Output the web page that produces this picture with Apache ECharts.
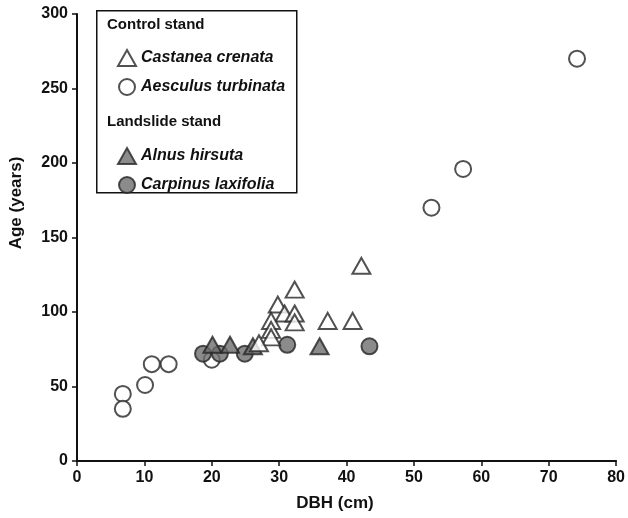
<!DOCTYPE html>
<html lang="en">
<head>
    <meta charset="UTF-8">
    <title>Age vs DBH</title>
    <style>
        html, body { margin: 0; padding: 0; background: #fff; }
        div#main { width: 628px; height: 518px; }
    </style>
</head>
<body>
    <div id="main"></div>
    <script src="https://cdn.jsdelivr.net/npm/echarts@6/dist/echarts.min.js"></script>
    <script>
        const FONT = '"Liberation Sans", Arial, sans-serif';

        // [DBH (cm), Age (years)]
        const castanea = [
            [42.2, 131], [32.3, 115], [29.8, 105], [30.8, 99], [32.3, 99],
            [32.3, 93], [28.8, 94], [28.8, 88], [28.8, 83], [27, 79],
            [37.2, 94], [40.9, 94]
        ];
        const aesculus = [
            [6.8, 45], [6.8, 35], [10.1, 51], [11.1, 65], [13.6, 65],
            [20, 68], [52.6, 170], [57.3, 196], [74.2, 270]
        ];
        const alnus = [[20.1, 78], [22.7, 78], [26.1, 77], [36, 77]];
        const carpinus = [[18.7, 72], [21.2, 72], [24.9, 72], [31.2, 78], [43.4, 77]];

        const controlNames = ['Castanea crenata', 'Aesculus turbinata'];
        const landslideNames = ['Alnus hirsuta', 'Carpinus laxifolia'];

        const openStyle = { color: '#fff', borderColor: '#262626', borderWidth: 2 };
        const filledStyle = { color: '#6e6e6e', borderColor: '#262626', borderWidth: 2 };

        const legendBase = {
            orient: 'vertical',
            left: 112,
            itemWidth: 18,
            itemHeight: 16,
            itemGap: 11,
            selectedMode: false,
            textStyle: {
                fontFamily: FONT, fontSize: 16, fontWeight: 'bold',
                fontStyle: 'italic', color: '#111'
            }
        };

        const myChart = echarts.init(document.getElementById('main'));

        const option = {
            animation: false,
            grid: { left: 77, right: 11, top: 14, bottom: 57 },
            legend: [
                Object.assign({}, legendBase, { top: 44, data: controlNames }),
                Object.assign({}, legendBase, { top: 142, data: landslideNames })
            ],
            xAxis: {
                type: 'value', min: 0, max: 80, interval: 10,
                splitLine: { show: false },
                axisLine: { lineStyle: { color: '#111', width: 2 } },
                axisTick: { length: 5, lineStyle: { color: '#111', width: 1.5 } },
                axisLabel: { margin: 9, fontFamily: FONT, fontSize: 16, fontWeight: 'bold', color: '#111' }
            },
            yAxis: {
                type: 'value', min: 0, max: 300, interval: 50,
                splitLine: { show: false },
                axisLine: { show: true, lineStyle: { color: '#111', width: 2 } },
                axisTick: { show: true, length: 5, lineStyle: { color: '#111', width: 1.5 } },
                axisLabel: { margin: 9, fontFamily: FONT, fontSize: 16, fontWeight: 'bold', color: '#111' }
            },
            graphic: [
                {
                    type: 'rect', left: 96, top: 10,
                    shape: { width: 200, height: 182 },
                    style: { fill: '#fff', stroke: '#111', lineWidth: 1.5 }
                },
                {
                    type: 'text', x: 107, y: 25,
                    style: { text: 'Control stand', font: 'bold 15px ' + FONT, fill: '#111', verticalAlign: 'middle' }
                },
                {
                    type: 'text', x: 107, y: 122,
                    style: { text: 'Landslide stand', font: 'bold 15px ' + FONT, fill: '#111', verticalAlign: 'middle' }
                },
                {
                    type: 'text', x: 335, y: 503,
                    style: { text: 'DBH (cm)', font: 'bold 17px ' + FONT, fill: '#111', align: 'center', verticalAlign: 'middle' }
                },
                {
                    type: 'text', x: 16, y: 203, rotation: Math.PI / 2,
                    style: { text: 'Age (years)', font: 'bold 17px ' + FONT, fill: '#111', align: 'center', verticalAlign: 'middle' }
                }
            ],
            series: [
                {
                    name: 'Aesculus turbinata', type: 'scatter', data: aesculus,
                    symbol: 'circle', symbolSize: 16, itemStyle: openStyle
                },
                {
                    name: 'Carpinus laxifolia', type: 'scatter', data: carpinus,
                    symbol: 'circle', symbolSize: 16, itemStyle: filledStyle
                },
                {
                    name: 'Alnus hirsuta', type: 'scatter', data: alnus,
                    symbol: 'triangle', symbolSize: [18, 16], itemStyle: filledStyle
                },
                {
                    name: 'Castanea crenata', type: 'scatter', data: castanea,
                    symbol: 'triangle', symbolSize: [18, 16], itemStyle: openStyle
                }
            ]
        };

        myChart.setOption(option);
    </script>
</body>
</html>
